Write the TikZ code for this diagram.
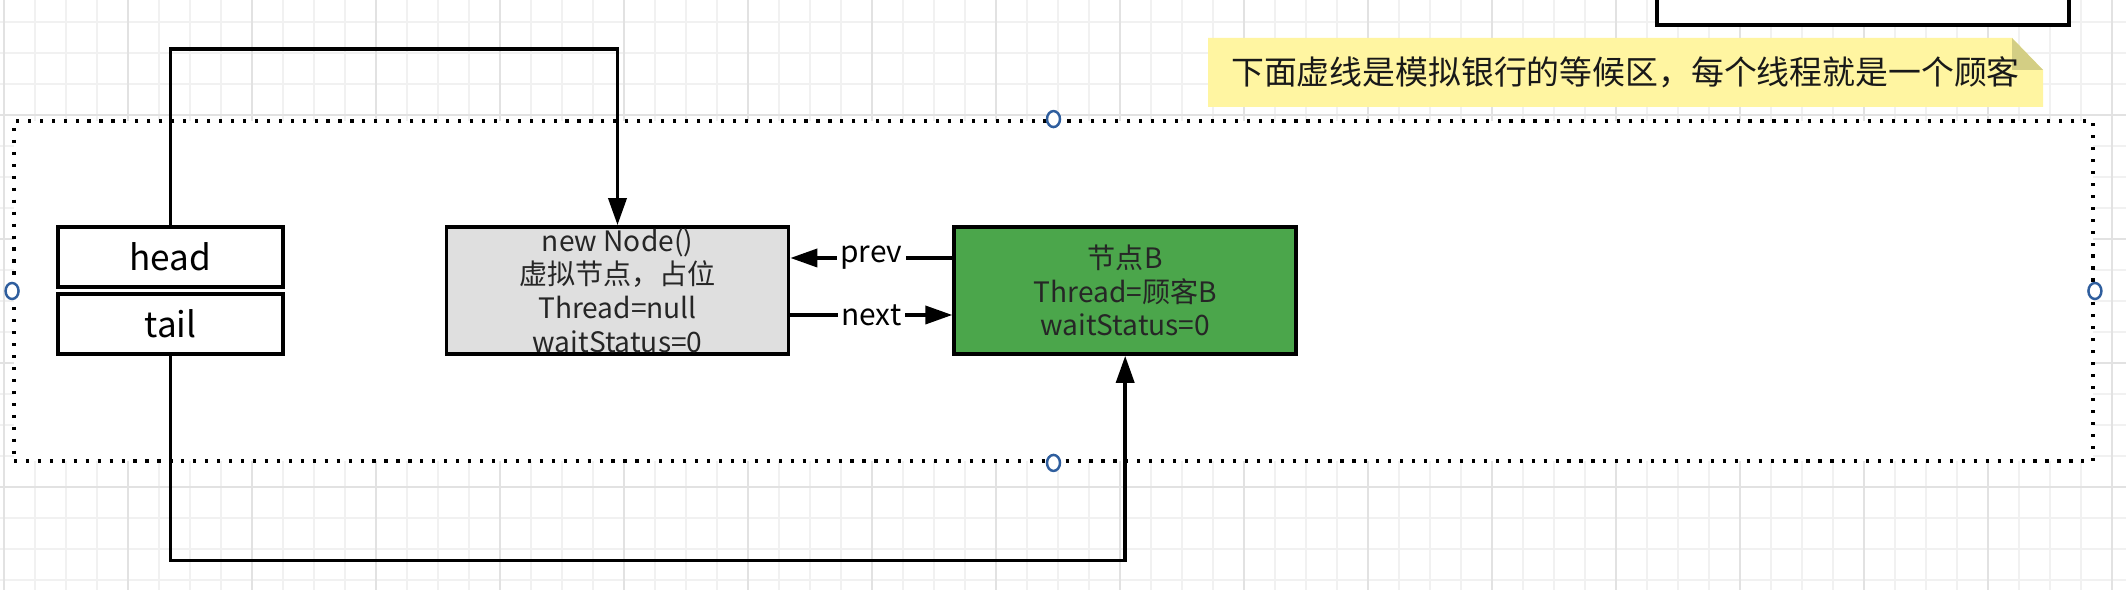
\documentclass[tikz,border=0pt]{standalone}
\usepackage{fontspec}
\setmainfont{Noto Sans CJK SC}
\usetikzlibrary{shapes.geometric, arrows.meta, positioning, calc}
\usepackage{xcolor}
\definecolor{gridminor}{HTML}{F1F1F1}
\definecolor{gridmajor}{HTML}{E2E2E2}
\definecolor{dummybg}{HTML}{DFDFDF}
\definecolor{nodegreen}{HTML}{4BA64B}
\definecolor{notebg}{HTML}{FFF5A1}
\definecolor{notefold}{HTML}{D3CE84}
\definecolor{handleblue}{HTML}{2F5E9E}

\begin{document}
\begin{tikzpicture}[
    every node/.style={font=\fontsize{8}{9.6}\selectfont},
    ptr/.style={draw, line width=1.05pt, fill=white, minimum width=2.25cm, minimum height=0.6cm, inner sep=0pt, font=\fontsize{10}{12}\selectfont},
    qnode/.style={draw, line width=1.05pt, minimum width=3.42cm, minimum height=1.27cm, inner xsep=0pt, inner ysep=-2pt, align=center, text=black!85},
    area/.style={draw, fill=white, line width=1.1pt, dash pattern=on 0.9pt off 2.5pt, minimum width=20.79cm, minimum height=3.40cm},
    arr/.style={-{Triangle[length=2.7mm,width=1.8mm]}, line width=1.05pt},
    lbl/.style={fill=white, inner sep=1pt, font=\fontsize{8.5}{10}\selectfont},
    handle/.style={ellipse, draw=handleblue, fill=white, line width=0.7pt, minimum width=1.3mm, minimum height=1.6mm, inner sep=0pt}
]
    \clip (0,0) rectangle (21.26,-5.90);
    % ===== grid =====
    \fill[white] (0,0) rectangle (21.26,-5.90);
    \foreach \i in {0,...,68} \draw[gridminor, line width=0.4pt] (0.04+0.31*\i,0) -- ++(0,-5.9);
    \foreach \j in {0,...,18} \draw[gridminor, line width=0.4pt] (0,-0.22-0.31*\j) -- ++(21.26,0);
    \foreach \i in {0,...,17} \draw[gridmajor, line width=0.5pt] (0.04+1.24*\i,0) -- ++(0,-5.9);
    \foreach \j in {0,...,4} \draw[gridmajor, line width=0.5pt] (0,-1.15-1.24*\j) -- ++(21.26,0);

    % ===== waiting area =====
    \node[area] (area) at (10.535,-2.91) {};
    \foreach \a in {north, south, west, east}
        \node[handle] (h-\a) at (area.\a) {};

    % ===== note =====
    \draw[line width=1.05pt, fill=white] (16.57,0.3) rectangle (20.69,-0.25);
    \fill[notebg] (12.08,-0.38) -- (20.12,-0.38) -- (20.43,-0.70) -- (20.43,-1.07) -- (12.08,-1.07) -- cycle;
    \fill[notefold] (20.12,-0.38) -- (20.12,-0.70) -- (20.43,-0.70) -- cycle;
    \node[font=\fontsize{9.35}{11}\selectfont, text=black!90] (tip) at (16.255,-0.725) {下面虚线是模拟银行的等候区，每个线程就是一个顾客};

    % ===== head / tail =====
    \node[ptr] (head) at (1.705,-2.57) {head};
    \node[ptr, below=0.03cm of head] (tail) {tail};

    % ===== queue =====
    \node[qnode, fill=dummybg] (dummy) at (6.175,-2.905) {new Node()\\虚拟节点，占位\\Thread=null\\waitStatus=0};
    \node[qnode, fill=nodegreen, right=1.62cm of dummy] (nodeB) {节点B\\Thread=顾客B\\waitStatus=0};

    \draw[arr] (head.north) -- ++(0,1.76) -| (dummy.north);
    \draw[arr] (tail.south) -- ++(0,-2.05) -| (nodeB.south);
    \draw[arr] ([yshift=3.25mm]nodeB.west) -- node[lbl] {prev} ([yshift=3.25mm]dummy.east);
    \draw[arr] ([yshift=-2.45mm]dummy.east) -- node[lbl] {next} ([yshift=-2.45mm]nodeB.west);
\end{tikzpicture}
\end{document}
